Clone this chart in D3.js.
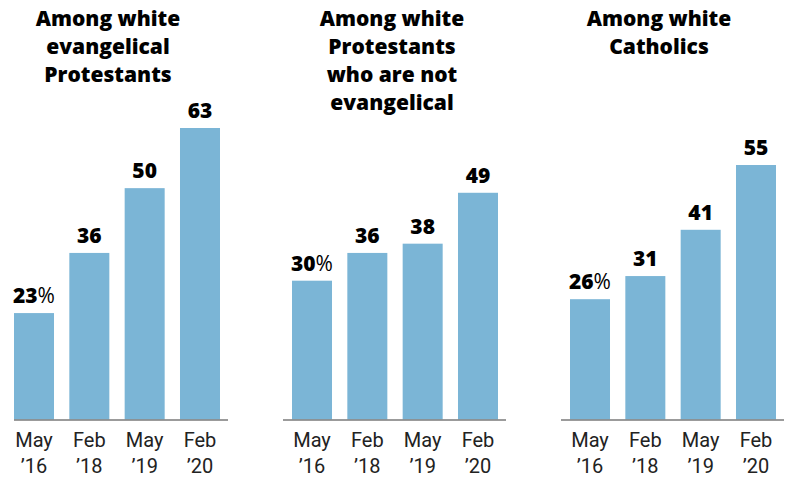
<!DOCTYPE html>
<html>
<head>
<meta charset="utf-8">
<script src="https://cdn.jsdelivr.net/npm/d3@7"></script>
<style>
  html, body { margin: 0; padding: 0; background: #fff; }
  svg { display: block; }
</style>
</head>
<body>
<div id="chart"></div>
<script>
// Survey shares (%) by religious group and wave
const panelTitles = [
  ["Among white", "evangelical", "Protestants"],
  ["Among white", "Protestants", "who are not", "evangelical"],
  ["Among white", "Catholics"]
];
const waves = ["May '16", "Feb '18", "May '19", "Feb '20"];
const tickLines = [["May", "\u201916"], ["Feb", "\u201918"], ["May", "\u201919"], ["Feb", "\u201920"]];
const evangelicalValues = [23, 36, 50, 63];
const nonEvangelicalValues = [30, 36, 38, 49];
const catholicValues = [26, 31, 41, 55];
const panelValues = [evangelicalValues, nonEvangelicalValues, catholicValues];

const W = 787, H = 477;
const baseY = 419.5;
const pxPerPoint = 4.627;
const titleOffsets = [-9, -3, -14]; // title centre relative to bar group centre

const svg = d3.select("#chart").append("svg")
  .attr("width", W).attr("height", H);

const outer = d3.scaleBand()
  .domain(d3.range(panelValues.length))
  .range([14, 776])
  .paddingInner(0.259);

const inner = d3.scaleBand()
  .domain(waves)
  .range([0, outer.bandwidth()])
  .paddingInner(0.277)
  .paddingOuter(0);

const y = d3.scaleLinear()
  .domain([0, 63])
  .range([baseY, baseY - 63 * pxPerPoint]);

panelValues.forEach((vals, p) => {
  const g = svg.append("g").attr("transform", `translate(${outer(p)},0)`);
  const cx = outer.bandwidth() / 2;

  // title
  const title = g.append("text")
    .attr("text-anchor", "middle")
    .attr("font-family", "'Open Sans', sans-serif")
    .attr("font-weight", 800)
    .attr("font-size", 21)
    .attr("fill", "#000");
  panelTitles[p].forEach((line, i) => {
    title.append("tspan")
      .attr("x", cx + titleOffsets[p])
      .attr("y", 25.5 + i * 28)
      .text(line);
  });

  // bars
  g.selectAll("rect.bar")
    .data(vals)
    .join("rect")
    .attr("class", "bar")
    .attr("x", (d, i) => inner(waves[i]))
    .attr("width", inner.bandwidth())
    .attr("y", d => y(d))
    .attr("height", d => y(0) - y(d))
    .attr("fill", "#7bb5d6");

  // value labels
  const labels = g.selectAll("text.val")
    .data(vals)
    .join("text")
    .attr("class", "val")
    .attr("text-anchor", "middle")
    .attr("x", (d, i) => inner(waves[i]) + inner.bandwidth() / 2)
    .attr("y", d => y(d) - 10)
    .attr("font-family", "'Open Sans', sans-serif")
    .attr("font-weight", 800)
    .attr("font-size", 21)
    .attr("fill", "#000");
  labels.append("tspan").text(d => d);
  labels.filter((d, i) => i === 0)
    .append("tspan")
    .attr("font-weight", 400)
    .text("%");

  // baseline
  const x0 = Math.max(-9, 14 - outer(p));
  g.append("line")
    .attr("x1", x0)
    .attr("x2", outer.bandwidth() + 8)
    .attr("y1", baseY + 0.5)
    .attr("y2", baseY + 0.5)
    .attr("stroke", "#7a7a7a")
    .attr("stroke-width", 1.3);

  // category ticks (two lines)
  const ticks = g.selectAll("text.tick")
    .data(waves)
    .join("text")
    .attr("class", "tick")
    .attr("text-anchor", "middle")
    .attr("font-family", "Roboto, sans-serif")
    .attr("font-size", 20)
    .attr("fill", "#222");
  ticks.each(function (w, i) {
    const t = d3.select(this);
    const xm = inner(w) + inner.bandwidth() / 2;
    tickLines[i].forEach((line, j) => {
      t.append("tspan").attr("x", xm).attr("y", 447 + j * 26).text(line);
    });
  });
});
</script>
</body>
</html>
